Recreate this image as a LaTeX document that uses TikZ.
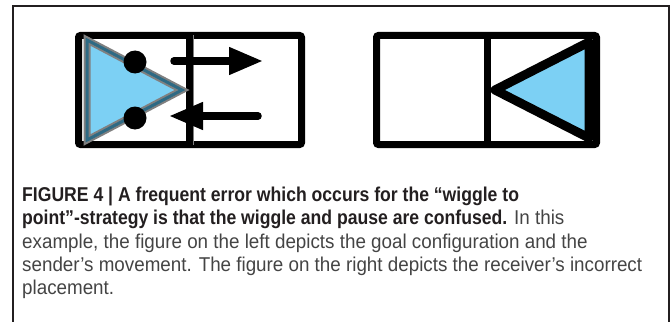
\documentclass[tikz,border=0pt]{standalone}
\usepackage{fontspec}
\setmainfont[FakeStretch=0.94, BoldFeatures={FakeStretch=0.88}]{Liberation Sans}
\usetikzlibrary{arrows.meta}
\definecolor{skyfill}{HTML}{7CD0F4}
\definecolor{tealedge}{HTML}{2E6A84}
\definecolor{frameclr}{HTML}{231F20}
\definecolor{bodytxt}{HTML}{444444}
\tikzset{
  boxline/.style={line width=7pt, rounded corners=2pt, draw=black},
  divline/.style={line width=7pt, draw=black},
  arrowline/.style={line width=7.5pt, line cap=round, -{Triangle[length=34pt,width=26pt]}},
  capline/.style={anchor=base west, inner sep=0pt, font=\fontsize{20}{23}\selectfont},
}
\begin{document}
\begin{tikzpicture}[x=1pt,y=-1pt]
\useasboundingbox (0,0) rectangle (671,321);
% frame
\coordinate (fbl) at (13,322);
\coordinate (ftl) at (13,6);
\coordinate (ftr) at (669,6);
\coordinate (fbr) at (669,322);
\draw[frameclr, line width=2pt] (fbl) -- (ftl) -- (ftr) -- (fbr);

% left figure
\coordinate (Lnw) at (78.5,35.5);
\coordinate (Lse) at (301.5,144.5);
\draw[boxline] (Lnw) rectangle (Lse);
\coordinate (Ldt) at (189.5,35.5);
\coordinate (Ldb) at (189.5,144.5);
\draw[gray, line width=8pt] (Ldt) -- (Ldb);
\draw[divline] (Ldt) -- (Ldb);
\coordinate (T1a) at (87,40);
\coordinate (T1b) at (182,90);
\coordinate (T1c) at (87,140);
\draw[gray, line width=7pt, line join=miter, fill=skyfill] (T1a) -- (T1b) -- (T1c) -- cycle;
\draw[tealedge, line width=3pt, line join=miter] (T1a) -- (T1b) -- (T1c) -- cycle;
\node[circle, fill=black, minimum size=23pt, inner sep=0pt] (dotA) at (135,62) {};
\node[circle, fill=black, minimum size=23pt, inner sep=0pt] (dotB) at (135,118) {};
\coordinate (a1s) at (174,61);
\coordinate (a1e) at (263,61);
\coordinate (a2s) at (258,116);
\coordinate (a2e) at (169,116);
\draw[arrowline] (a1s) -- (a1e);
\draw[arrowline] (a2s) -- (a2e);

% right figure
\coordinate (Rnw) at (376.5,35.5);
\coordinate (Rse) at (596.5,144.5);
\draw[boxline] (Rnw) rectangle (Rse);
\coordinate (Rdt) at (487,35.5);
\coordinate (Rdb) at (487,144.5);
\draw[divline] (Rdt) -- (Rdb);
\coordinate (T2a) at (589,42);
\coordinate (T2b) at (495,90);
\coordinate (T2c) at (589,138);
\draw[black, line width=9pt, line join=round, fill=skyfill] (T2a) -- (T2b) -- (T2c) -- cycle;

% caption
\node[capline, text=frameclr] (cap1) at (22,201.5) {\textbf{FIGURE 4 | A frequent error which occurs for the “wiggle to}};
\node[capline, text=bodytxt] (cap2) at (22,224.8) {\textbf{\color{frameclr}point”-strategy is that the wiggle and pause are confused.} In this};
\node[capline, text=bodytxt] (cap3) at (22,248.1) {example, the figure on the left depicts the goal configuration and the};
\node[capline, text=bodytxt] (cap4) at (22,271.4) {sender’s movement. The figure on the right depicts the receiver’s incorrect};
\node[capline, text=bodytxt] (cap5) at (22,294.7) {placement.};
\end{tikzpicture}
\end{document}
